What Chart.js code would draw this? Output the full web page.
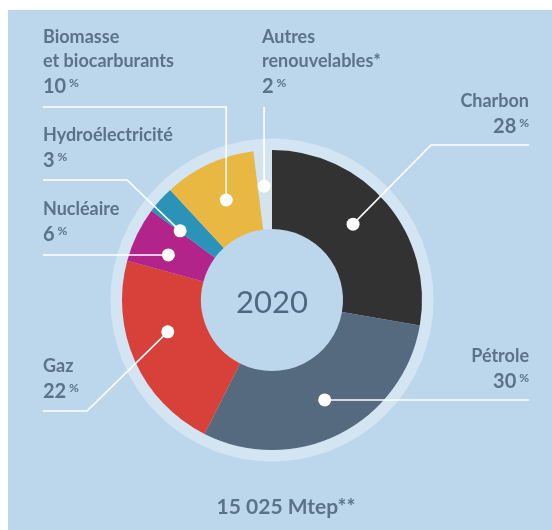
<!DOCTYPE html>
<html><head><meta charset="utf-8">
<script src="https://cdn.jsdelivr.net/npm/chart.js@4/dist/chart.umd.min.js"></script>
<style>html,body{margin:0;padding:0;background:#fff;}#wrap{width:552px;height:530px;position:relative;}</style>
</head><body>
<div id="wrap"><canvas id="c" width="552" height="530"></canvas></div>
<script>
// ---- data ----
const categories = ["Charbon", "Pétrole", "Gaz", "Nucléaire", "Hydroélectricité", "Biomasse et biocarburants", "Autres renouvelables*"];
const shares = [28, 30, 22, 6, 3, 10, 2];
const labelLines = [["Charbon"], ["Pétrole"], ["Gaz"], ["Nucléaire"], ["Hydroélectricité"], ["Biomasse", "et biocarburants"], ["Autres", "renouvelables*"]];
const centerLabel = "2020";
const totalLabel = "15 025 Mtep**";

// ---- styles ----
const colors = ["#323232", "#566a7f", "#d8413a", "#b3248b", "#2c93b8", "#e8b842", "#d4e4ef"];
const BG = "#bcd7ec", HALO = "#d3e5f2", TXT = "#5b7289", CENTER_TXT = "#4f6882";

// ---- callout layout (annotation placement) ----
const callouts = [
  {frac: 0.47, r: 111, path: d => [[431, 145], [529, 145]], tx: 529, ty: 107, align: "right"},
  {frac: 0.49, r: 113, path: d => [[529, d.y]], tx: 529, ty: 362, align: "right"},
  {frac: 0.59, r: 109, path: d => [[87, 411], [43, 411]], tx: 43, ty: 372, align: "left"},
  {frac: 0.39, r: 113, path: d => [[43, d.y]], tx: 43, ty: 215, align: "left"},
  {frac: 0.04, r: 115, path: d => [[127, 180], [43, 180]], tx: 43, ty: 141, align: "left"},
  {frac: 0.51, r: 110, path: d => [[d.x, 107], [43, 107]], tx: 43, ty: 43, align: "left"},
  {frac: 0.44, r: 114, path: d => [[d.x, 107]], tx: 262, ty: 43, align: "left"}
];

const bgPlugin = {
  id: "bg",
  beforeDraw(chart) {
    const ctx = chart.ctx;
    ctx.save();
    ctx.fillStyle = "#ffffff";
    ctx.fillRect(0, 0, chart.width, chart.height);
    ctx.fillStyle = BG;
    ctx.fillRect(8, 10, chart.width - 8, chart.height - 10);
    ctx.restore();
  },
  beforeDatasetsDraw(chart) {
    const arc = chart.getDatasetMeta(0).data[0];
    const ctx = chart.ctx;
    ctx.save();
    ctx.beginPath();
    ctx.arc(arc.x, arc.y, arc.outerRadius + 5.5, 0, Math.PI * 2);
    ctx.lineWidth = 12;
    ctx.strokeStyle = HALO;
    ctx.stroke();
    ctx.restore();
  },
  afterDraw(chart) {
    const ctx = chart.ctx;
    const meta = chart.getDatasetMeta(0);
    const c0 = meta.data[0];
    ctx.save();
    // center label
    ctx.fillStyle = CENTER_TXT;
    ctx.font = "31px Lato";
    ctx.textAlign = "center";
    ctx.textBaseline = "alphabetic";
    ctx.fillText(centerLabel, c0.x, c0.y + 12.5);
    // total
    ctx.fillStyle = TXT;
    ctx.font = "bold 21px Lato";
    ctx.fillText(totalLabel, 286, 514);

    // callouts
    meta.data.forEach((arc, i) => {
      const co = callouts[i];
      const a = arc.startAngle + co.frac * (arc.endAngle - arc.startAngle);
      const d = {x: arc.x + co.r * Math.cos(a), y: arc.y + co.r * Math.sin(a)};
      const pts = co.path(d);
      ctx.strokeStyle = "#ffffff";
      ctx.lineWidth = 1.6;
      ctx.beginPath();
      ctx.moveTo(d.x, d.y);
      pts.forEach(p => ctx.lineTo(p[0], p[1]));
      ctx.stroke();
      ctx.fillStyle = "#ffffff";
      ctx.beginPath();
      ctx.arc(d.x, d.y, 6.5, 0, Math.PI * 2);
      ctx.fill();

      // text
      ctx.fillStyle = TXT;
      ctx.textAlign = co.align;
      ctx.font = "bold 18px Lato";
      const lines = labelLines[i];
      lines.forEach((ln, k) => ctx.fillText(ln, co.tx, co.ty + k * 24));
      const vy = co.ty + (lines.length - 1) * 24 + 26;
      const num = String(chart.data.datasets[0].data[i]);
      ctx.font = "bold 20px Lato";
      const wn = ctx.measureText(num + " ").width;
      ctx.font = "bold 12px Lato";
      const wp = ctx.measureText("%").width;
      const x0 = co.align === "right" ? co.tx - wn - wp + 2 : co.tx;
      ctx.textAlign = "left";
      ctx.font = "bold 20px Lato";
      ctx.fillText(num, x0, vy);
      ctx.font = "bold 12px Lato";
      ctx.fillText("%", x0 + wn - 2, vy - 6);
    });
    ctx.restore();
  }
};

function make() {
  new Chart(document.getElementById("c"), {
    type: "doughnut",
    data: {
      labels: categories,
      datasets: [{data: shares, backgroundColor: colors, borderWidth: 0, hoverOffset: 0, offset: 0}]
    },
    options: {
      responsive: false,
      animation: false,
      cutout: 71,
      layout: {padding: {left: 122, top: 150, right: 130, bottom: 80}},
      plugins: {legend: {display: false}, tooltip: {enabled: false}},
      events: []
    },
    plugins: [bgPlugin]
  });
}
if (document.fonts && document.fonts.load) {
  Promise.all([document.fonts.load("bold 18px Lato"), document.fonts.load("31px Lato")]).then(make, make);
} else make();
</script>
</body></html>
